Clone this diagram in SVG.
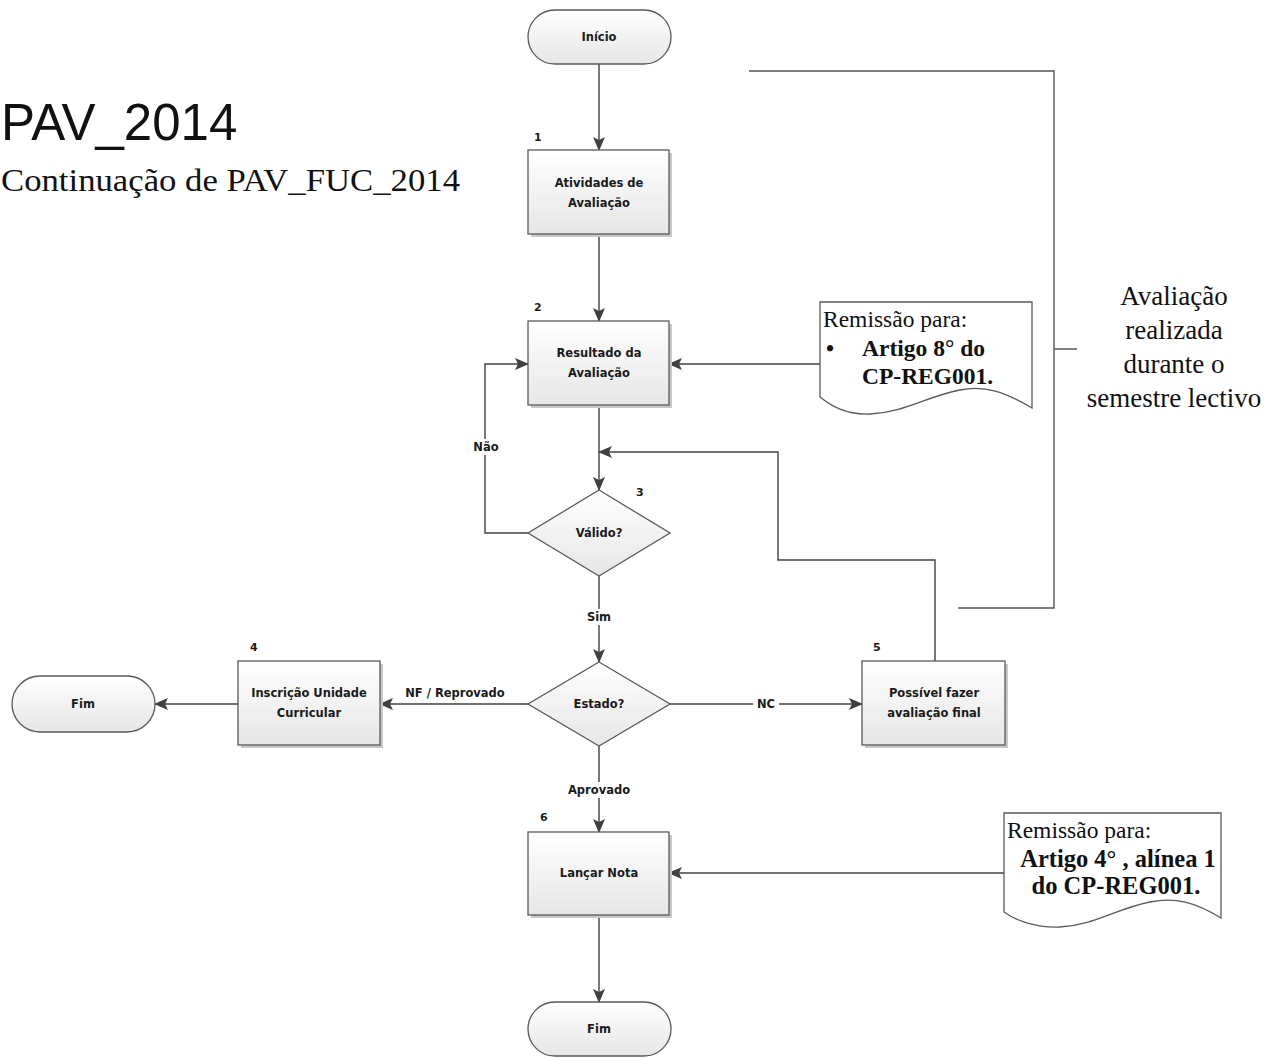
<svg xmlns="http://www.w3.org/2000/svg" width="1285" height="1058" viewBox="0 0 1285 1058">
<style>
  .shape { stroke: #5a5a5a; stroke-width: 1.3; fill: url(#boxFill); }
  .shadow { fill: #c8c8c8; }
  .lbl { font-family: "DejaVu Sans", "Liberation Sans", sans-serif; font-weight: bold; font-size: 11.5px; fill: #1a1a1a; text-anchor: middle; }
  .num { font-family: "DejaVu Sans", "Liberation Sans", sans-serif; font-weight: bold; font-size: 11px; fill: #1a1a1a; }
  .edge { stroke: #404040; stroke-width: 1.4; fill: none; }
  .elbl { font-family: "DejaVu Sans", "Liberation Sans", sans-serif; font-weight: bold; font-size: 11.5px; fill: #1a1a1a; text-anchor: middle; }
  .doc { stroke: #5a5a5a; stroke-width: 1.3; fill: #ffffff; }
  .serif { font-family: "Liberation Serif", "Times New Roman", serif; fill: #111; }
</style>
<defs>
  <linearGradient id="boxFill" x1="0" y1="0" x2="0" y2="1">
    <stop offset="0" stop-color="#ffffff"/>
    <stop offset="1" stop-color="#e6e6e6"/>
  </linearGradient>
  <marker id="arrow" viewBox="0 0 14 12" refX="13" refY="6" markerWidth="14" markerHeight="12" markerUnits="userSpaceOnUse" orient="auto">
    <path d="M0,0 L14,6 L0,12 L3,6 Z" fill="#404040"/>
  </marker>
</defs>
<rect width="1285" height="1058" fill="#ffffff"/>

<!-- title -->
<text x="1" y="140" font-family="Liberation Sans, Arial, sans-serif" font-size="51" fill="#111">PAV_2014</text>
<text x="1" y="191" font-family="Liberation Serif, serif" font-size="32" fill="#111" textLength="459" lengthAdjust="spacingAndGlyphs">Continuação de PAV_FUC_2014</text>

<!-- connectors -->
<g id="connectors">
  <path class="edge" d="M599,64 V150" marker-end="url(#arrow)"/>
  <path class="edge" d="M599,234 V321" marker-end="url(#arrow)"/>
  <path class="edge" d="M820,364 H669" marker-end="url(#arrow)"/>
  <path class="edge" d="M599,405 V490" marker-end="url(#arrow)"/>
  <path class="edge" d="M528,533 H485 V364 H528" marker-end="url(#arrow)"/>
  <path class="edge" d="M935,661 V560 H778 V452 H599" marker-end="url(#arrow)"/>
  <path class="edge" d="M599,576 V662" marker-end="url(#arrow)"/>
  <path class="edge" d="M528,704 H380" marker-end="url(#arrow)"/>
  <path class="edge" d="M238,704 H155" marker-end="url(#arrow)"/>
  <path class="edge" d="M670,704 H862" marker-end="url(#arrow)"/>
  <path class="edge" d="M599,746 V832" marker-end="url(#arrow)"/>
  <path class="edge" d="M1004,873 H669" marker-end="url(#arrow)"/>
  <path class="edge" d="M599,915 V1002" marker-end="url(#arrow)"/>
  <!-- bracket -->
  <path d="M749,71 H1054 V608 H958 M1054,349 H1077" stroke="#555" stroke-width="1.4" fill="none"/>
  <!-- edge labels -->
  <rect x="470" y="439" width="32" height="16" fill="#fff"/>
  <text class="elbl" x="486" y="451">Não</text>
  <rect x="584" y="609" width="30" height="16" fill="#fff"/>
  <text class="elbl" x="599" y="621">Sim</text>
  <rect x="398" y="684" width="114" height="17" fill="#fff"/>
  <text class="elbl" x="455" y="697">NF / Reprovado</text>
  <rect x="753" y="696" width="26" height="16" fill="#fff"/>
  <text class="elbl" x="766" y="708">NC</text>
  <rect x="563" y="782" width="72" height="16" fill="#fff"/>
  <text class="elbl" x="599" y="794">Aprovado</text>
</g>

<!-- start -->
<g id="inicio">
  <rect x="528" y="10" width="143" height="54" rx="27" ry="27" class="shape"/>
  <text class="lbl" x="599" y="41">Início</text>
</g>

<g id="n1">
  <rect class="shadow" x="531" y="153" width="141" height="84"/>
  <rect class="shape" x="528" y="150" width="141" height="84"/>
  <text class="num" x="534" y="141">1</text>
  <text class="lbl" x="599" y="187">Atividades de</text>
  <text class="lbl" x="599" y="207">Avaliação</text>
</g>

<g id="n2">
  <rect class="shadow" x="531" y="324" width="141" height="84"/>
  <rect class="shape" x="528" y="321" width="141" height="84"/>
  <text class="num" x="534" y="311">2</text>
  <text class="lbl" x="599" y="357">Resultado da</text>
  <text class="lbl" x="599" y="377">Avaliação</text>
</g>

<g id="n3">
  <path class="shape" d="M599,490 L670,533 L599,576 L528,533 Z"/>
  <text class="num" x="636" y="496">3</text>
  <text class="lbl" x="599" y="537">Válido?</text>
</g>

<g id="estado">
  <path class="shape" d="M599,662 L670,704 L599,746 L528,704 Z"/>
  <text class="lbl" x="599" y="708">Estado?</text>
</g>

<g id="n4">
  <rect class="shadow" x="241" y="664" width="142" height="84"/>
  <rect class="shape" x="238" y="661" width="142" height="84"/>
  <text class="num" x="250" y="651">4</text>
  <text class="lbl" x="309" y="697">Inscrição Unidade</text>
  <text class="lbl" x="309" y="717">Curricular</text>
</g>

<g id="fim1">
  <rect x="12" y="676" width="143" height="56" rx="28" ry="28" class="shape"/>
  <text class="lbl" x="83" y="708">Fim</text>
</g>

<g id="n5">
  <rect class="shadow" x="865" y="664" width="143" height="84"/>
  <rect class="shape" x="862" y="661" width="143" height="84"/>
  <text class="num" x="873" y="651">5</text>
  <text class="lbl" x="934" y="697">Possível fazer</text>
  <text class="lbl" x="934" y="717">avaliação final</text>
</g>

<g id="n6">
  <rect class="shadow" x="531" y="835" width="141" height="83"/>
  <rect class="shape" x="528" y="832" width="141" height="83"/>
  <text class="num" x="540" y="821">6</text>
  <text class="lbl" x="599" y="877">Lançar Nota</text>
</g>

<g id="fim2">
  <rect x="528" y="1002" width="143" height="54" rx="27" ry="27" class="shape"/>
  <text class="lbl" x="599" y="1033">Fim</text>
</g>

<g id="doc1">
  <path class="doc" d="M820,302 H1032 V408 C1005,392 985,385 960,390 C925,397 905,412 870,414 C845,415 830,405 820,397 Z"/>
  <text class="serif" x="823" y="327" font-size="23.5">Remissão para:</text>
  <text class="serif" x="826" y="356" font-size="23" font-weight="bold">•</text>
  <text class="serif" x="862" y="356" font-size="23.5" font-weight="bold">Artigo 8° do</text>
  <text class="serif" x="862" y="384" font-size="23.5" font-weight="bold">CP-REG001.</text>
</g>

<g id="doc2">
  <path class="doc" d="M1004,813 H1221 V918 C1195,902 1175,897 1150,902 C1115,909 1095,925 1060,927 C1035,928 1015,920 1004,912 Z"/>
  <text class="serif" x="1007" y="838" font-size="23.5">Remissão para:</text>
  <text class="serif" x="1118" y="867" font-size="24.5" font-weight="bold" text-anchor="middle">Artigo 4° , alínea 1</text>
  <text class="serif" x="1116" y="894" font-size="24.5" font-weight="bold" text-anchor="middle">do CP-REG001.</text>
</g>

<g id="periodo">
  <text class="serif" x="1174" y="305" font-size="27" text-anchor="middle">Avaliação</text>
  <text class="serif" x="1174" y="339" font-size="27" text-anchor="middle">realizada</text>
  <text class="serif" x="1174" y="373" font-size="27" text-anchor="middle">durante o</text>
  <text class="serif" x="1174" y="407" font-size="27" text-anchor="middle">semestre lectivo</text>
</g>
</svg>
